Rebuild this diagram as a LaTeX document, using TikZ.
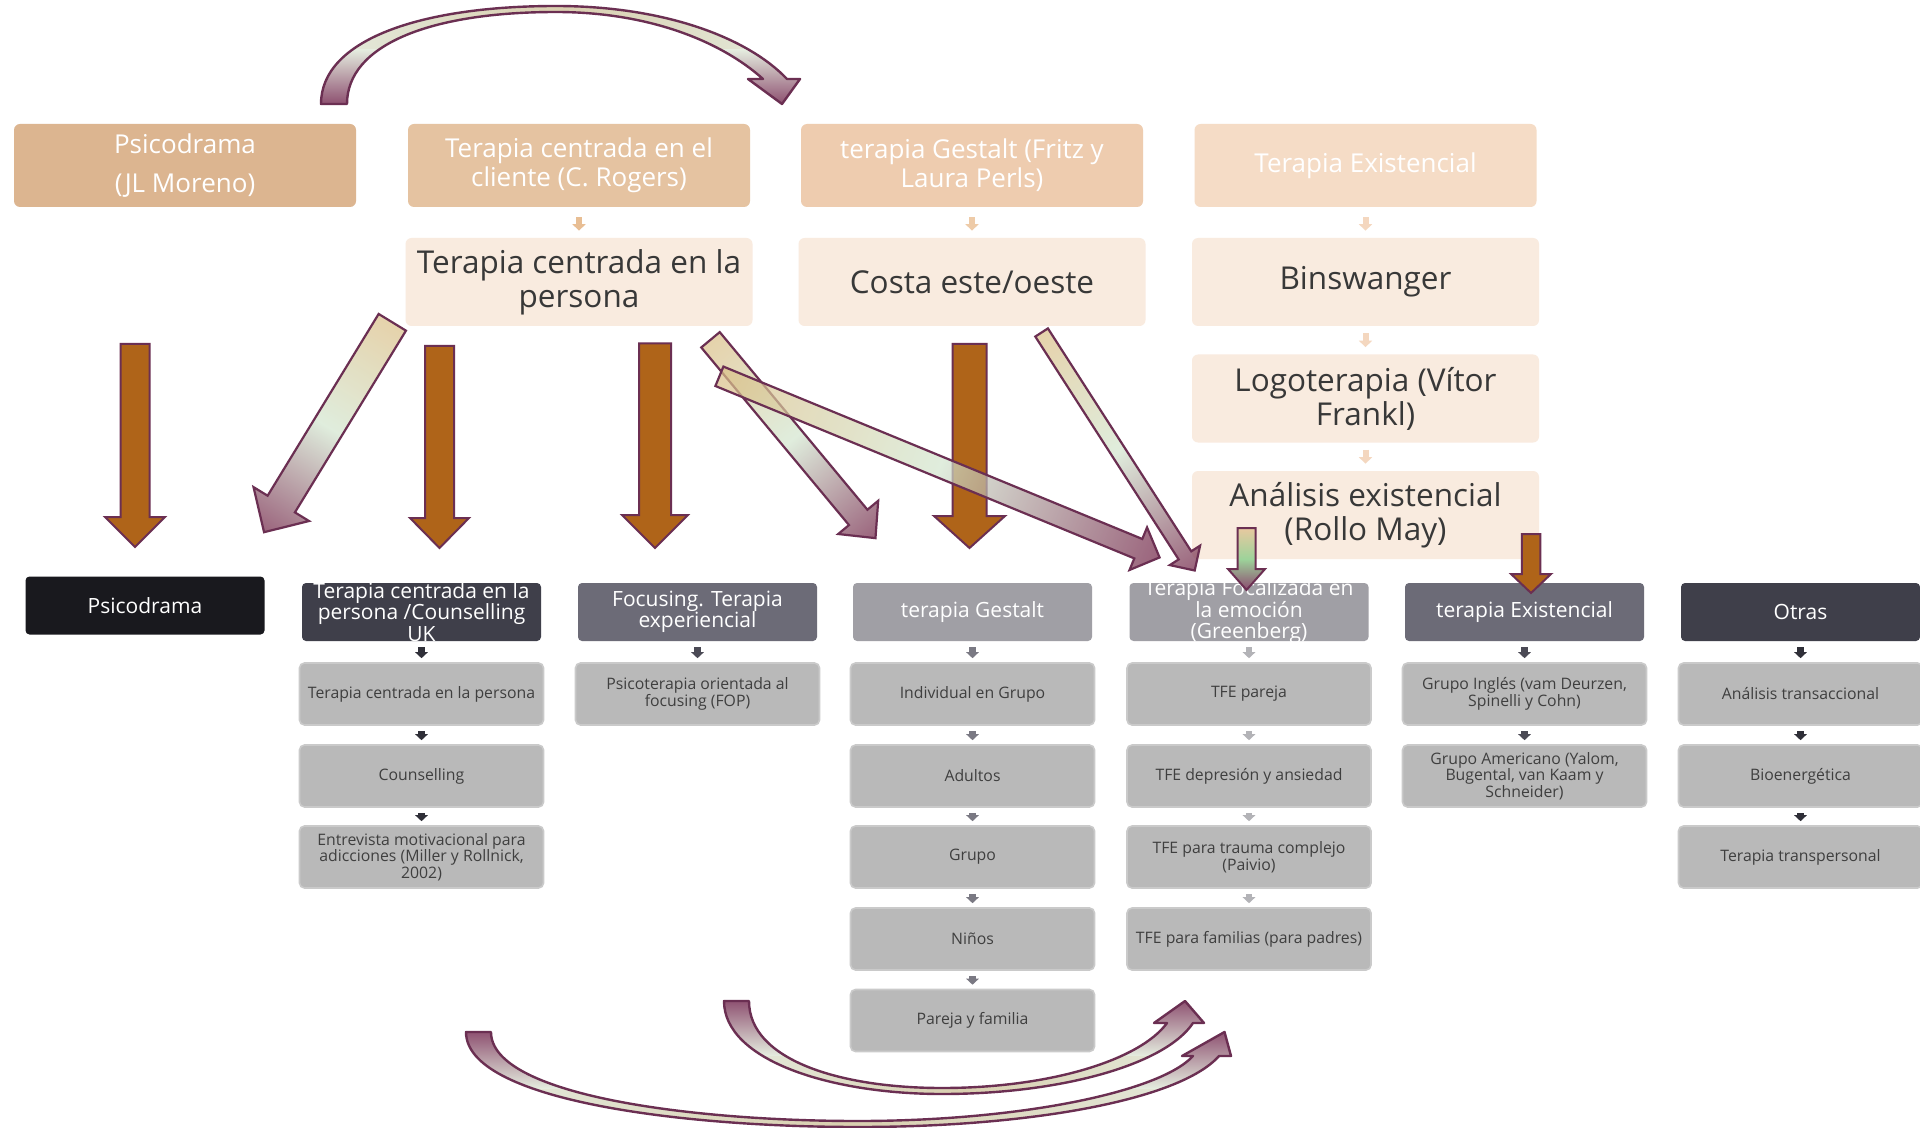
\documentclass[tikz,border=0pt]{standalone}
\usepackage{fontspec}
\setmainfont{Open Sans}
\usetikzlibrary{arrows.meta}
\definecolor{topA}{HTML}{DCB590}
\definecolor{topB}{HTML}{E5C3A1}
\definecolor{topC}{HTML}{EECCAF}
\definecolor{topD}{HTML}{F5DCC6}
\definecolor{cream}{HTML}{F9EBDF}
\definecolor{darktxt}{HTML}{383838}
\definecolor{hA}{HTML}{19191E}
\definecolor{hB}{HTML}{3F3F4A}
\definecolor{hC}{HTML}{6C6B77}
\definecolor{hD}{HTML}{A09FA5}
\definecolor{subfill}{HTML}{B9B9B9}
\definecolor{subedge}{HTML}{CACACA}
\definecolor{subtxt}{HTML}{3F3F3F}
\definecolor{brownarr}{HTML}{AF6419}
\definecolor{plum}{HTML}{6B2F52}
\definecolor{dtan}{HTML}{DBC088}
\definecolor{dlight}{HTML}{D3E6CF}
\definecolor{dmauve}{HTML}{702245}
\definecolor{arcL}{HTML}{E4EBDE}
\definecolor{arcT}{HTML}{D9CFAF}
\definecolor{arcP}{HTML}{8A4A6C}
\definecolor{gtan}{HTML}{E8C9A0}
\definecolor{ggreen}{HTML}{9DD39A}
\definecolor{gmauve}{HTML}{8C4A70}
\definecolor{taA}{HTML}{E8BE94}
\definecolor{taB}{HTML}{EECBA8}
\definecolor{taC}{HTML}{F4D7BF}
\definecolor{baA}{HTML}{2F2F38}
\definecolor{baB}{HTML}{4B4A55}
\definecolor{baC}{HTML}{7A7983}
\definecolor{baD}{HTML}{B3B3B7}
\pgfdeclarehorizontalshading{arcshade}{100bp}{color(0bp)=(arcL); color(25bp)=(arcL); color(50bp)=(arcT); color(75bp)=(arcL); color(100bp)=(arcL)}
% block arrow: style, x, y, angle, length, shaft width, head width, head length
\newcommand{\blockarrow}[8]{%
  \begin{scope}[transform canvas={shift={(#2,#3)},rotate=#4}]
    \path[#1] (0,#6/2) -- (#5-#8,#6/2) -- (#5-#8,#7/2) -- (#5,0) -- (#5-#8,-#7/2) -- (#5-#8,-#6/2) -- (0,-#6/2) -- cycle;
  \end{scope}}
\def\toparc{(321,104) .. controls (321,40) and (420,6) .. (556,6) .. controls (665,6) and (748,38) .. (787,79) -- (800,79) -- (782,104) -- (748,79) -- (763,79) .. controls (722,42) and (650,12) .. (556,12) .. controls (430,12) and (347,45) .. (347,104) -- cycle}
\def\arcone{(724,1001) .. controls (724,1060) and (830,1094) .. (942,1094) .. controls (1060,1094) and (1165,1065) .. (1193,1023) -- (1204,1023) -- (1185,1001) -- (1154,1023) -- (1167,1023) .. controls (1140,1060) and (1050,1088) .. (942,1088) .. controls (840,1088) and (749,1060) .. (749,1001) -- cycle}
\def\arctwo{(466,1032) .. controls (466,1100) and (680,1127) .. (858,1127) .. controls (1030,1127) and (1180,1100) .. (1219,1056) -- (1231,1056) -- (1224.5,1032) -- (1182,1056) -- (1193,1056) .. controls (1160,1092) and (1020,1121) .. (858,1121) .. controls (690,1121) and (491,1095) .. (491,1032) -- cycle}
\begin{document}
\begin{tikzpicture}[x=0.5pt, y=-0.5pt,
  topbox/.style={rounded corners=3pt, minimum width=171pt, minimum height=41.5pt, inner sep=0pt, text=white, align=center, font=\fontsize{13}{14.5}\selectfont},
  midbox/.style={rounded corners=3pt, fill=cream, minimum width=173.5pt, minimum height=44pt, inner sep=0pt, text=darktxt, align=center, font=\fontsize{15.75}{17}\selectfont},
  hdr/.style={rounded corners=2pt, minimum width=119.5pt, minimum height=29pt, inner sep=0pt},
  hdrtxt/.style={text=white, align=center, inner sep=0pt, font=\fontsize{10.5}{10.75}\selectfont},
  subbox/.style={rounded corners=2.5pt, fill=subfill, draw=subedge, line width=0.8pt, minimum width=122pt, minimum height=31pt, inner sep=0pt, text=subtxt, align=center, font=\fontsize{7.9}{8.35}\selectfont},
  tarr/.style={line width=3pt, -{Triangle[width=6.5pt,length=3.2pt]}, shorten <=5pt, shorten >=3.5pt},
  marr/.style={line width=3pt, -{Triangle[width=6.5pt,length=3.2pt]}, shorten <=3.5pt, shorten >=3.5pt},
  barr/.style={line width=3.2pt, -{Triangle[width=6.2pt,length=3pt]}, shorten <=2.8pt, shorten >=2pt},
  brownblk/.style={fill=brownarr, draw=plum, line width=1pt},
  diagblk/.style={left color=dtan, right color=dmauve, middle color=dlight, fill opacity=0.7, draw=plum, line width=1.1pt},
  greenblk/.style={left color=gtan, right color=gmauve, middle color=ggreen, draw=plum, line width=1pt},
  arcline/.style={draw=plum, line width=1.2pt, line join=round}
]
\useasboundingbox (0,0) rectangle (1920,1128);
\fill[white] (0,0) rectangle (1920,1128);

% top row
\node[topbox, fill=topA] (t1) at (185,165.5) {\raisebox{-1.5pt}{Psicodrama}\\[4.7pt]\raisebox{-1.5pt}{(JL Moreno)}};
\node[topbox, fill=topB] (t2) at (579,165.5) {Terapia centrada en el\\cliente (C. Rogers)};
\node[topbox, fill=topC] (t3) at (972,165.5) {terapia Gestalt (Fritz y\\Laura Perls)};
\node[topbox, fill=topD] (t4) at (1365.5,165.5) {Terapia Existencial};

% second row
\node[midbox] (m2) at (579,282) {Terapia centrada en la\\persona};
\node[midbox] (m3) at (972,282) {Costa este/oeste};
\node[midbox] (m4) at (1365.5,282) {Binswanger};
\node[midbox] (m5) at (1365.5,398.5) {Logoterapia (Vítor\\Frankl)};
\node[midbox] (m6) at (1365.5,515) {Análisis existencial\\(Rollo May)};

\draw[tarr,taA] (t2) -- (m2);
\draw[tarr,taB] (t3) -- (m3);
\draw[tarr,taC] (t4) -- (m4);
\draw[marr,taC] (m4) -- (m5);
\draw[marr,taC] (m5) -- (m6);

% headers
\node[hdr, fill=hA] (h1) at (145,605.5) {};
\node[hdr, fill=hB] (h2) at (421.5,612) {};
\node[hdr, fill=hC] (h3) at (697.5,612) {};
\node[hdr, fill=hD] (h4) at (972.5,612) {};
\node[hdr, fill=hD] (h5) at (1249,612) {};
\node[hdr, fill=hC] (h6) at (1524.5,612) {};
\node[hdr, fill=hB] (h7) at (1800.5,612) {};
\node[hdrtxt] (h1t) at (h1) {Psicodrama};
\node[hdrtxt] (h2t) at (h2) {Terapia centrada en la\\persona /Counselling\\UK};
\node[hdrtxt] (h3t) at (h3) {Focusing. Terapia\\experiencial};
\node[hdrtxt] (h4t) at (h4) {terapia Gestalt};
\node[hdrtxt] (h5t) at (h5) {Terapia Focalizada en\\la emoción\\(Greenberg)};
\node[hdrtxt] (h6t) at (h6) {terapia Existencial};
\node[hdrtxt] (h7t) at (h7) {Otras};

% sub boxes
\node[subbox] (s2a) at (421.5,694) {Terapia centrada en la persona};
\node[subbox] (s2b) at (421.5,776) {Counselling};
\node[subbox] (s2c) at (421.5,857) {Entrevista motivacional para\\adicciones (Miller y Rollnick,\\2002)};
\node[subbox] (s3a) at (697.5,694) {Psicoterapia orientada al\\focusing (FOP)};
\node[subbox] (s4a) at (972.5,694) {Individual en Grupo};
\node[subbox] (s4b) at (972.5,776) {Adultos};
\node[subbox] (s4c) at (972.5,857) {Grupo};
\node[subbox] (s4d) at (972.5,939) {Niños};
\node[subbox] (s4e) at (972.5,1020.5) {Pareja y familia};
\node[subbox] (s5a) at (1249,694) {TFE pareja};
\node[subbox] (s5b) at (1249,776) {TFE depresión y ansiedad};
\node[subbox] (s5c) at (1249,857) {TFE para trauma complejo\\(Paivio)};
\node[subbox] (s5d) at (1249,939) {TFE para familias (para padres)};
\node[subbox] (s6a) at (1524.5,694) {Grupo Inglés (vam Deurzen,\\Spinelli y Cohn)};
\node[subbox] (s6b) at (1524.5,776) {Grupo Americano (Yalom,\\Bugental, van Kaam y\\Schneider)};
\node[subbox] (s7a) at (1800.5,694) {Análisis transaccional};
\node[subbox] (s7b) at (1800.5,776) {Bioenergética};
\node[subbox] (s7c) at (1800.5,857) {Terapia transpersonal};

\foreach \a/\b in {h2/s2a,s2a/s2b,s2b/s2c} \draw[barr,baA] (\a) -- (\b);
\draw[barr,baB] (h3) -- (s3a);
\foreach \a/\b in {h4/s4a,s4a/s4b,s4b/s4c,s4c/s4d,s4d/s4e} \draw[barr,baC] (\a) -- (\b);
\foreach \a/\b in {h5/s5a,s5a/s5b,s5b/s5c,s5c/s5d} \draw[barr,baD] (\a) -- (\b);
\foreach \a/\b in {h6/s6a,s6a/s6b} \draw[barr,baB] (\a) -- (\b);
\foreach \a/\b in {h7/s7a,s7a/s7b,s7b/s7c} \draw[barr,baA] (\a) -- (\b);

% big brown arrows
\blockarrow{brownblk}{135}{344}{-90}{203}{29}{60}{30}
\blockarrow{brownblk}{439.5}{346}{-90}{202}{29}{59}{30}
\blockarrow{brownblk}{655}{343.5}{-90}{204.5}{32}{66}{33}
\blockarrow{brownblk}{969.5}{344}{-90}{204}{34}{71}{32}
\blockarrow{brownblk}{1531}{534}{-90}{59}{18.5}{40}{19}
\blockarrow{greenblk}{1246.5}{528}{-90}{62}{18}{37}{21}

% diagonal gradient arrows
\blockarrow{diagblk}{392.3}{322.3}{-121.42}{246}{32}{65}{33}
\blockarrow{diagblk}{710.5}{339.8}{-50.25}{258}{24}{52}{27}
\blockarrow{diagblk}{1041.6}{332.5}{-57.25}{283}{15}{36}{18}
\blockarrow{diagblk}{719.4}{376.3}{-22.37}{476}{21}{46}{23}

% curved arrows
\path[shade, shading=arcshade] \toparc;
\begin{scope}
  \clip \toparc;
  \shade[top color=arcL, bottom color=arcP] (300,50) rectangle (820,106);
\end{scope}
\path[arcline] \toparc;

\path[shade, shading=arcshade] \arcone;
\begin{scope}
  \clip \arcone;
  \shade[top color=arcP, bottom color=arcL] (700,998) rectangle (1210,1055);
\end{scope}
\path[arcline] \arcone;

\path[shade, shading=arcshade] \arctwo;
\begin{scope}
  \clip \arctwo;
  \shade[top color=arcP, bottom color=arcL] (440,1029) rectangle (1240,1088);
\end{scope}
\path[arcline] \arctwo;
\end{tikzpicture}
\end{document}
